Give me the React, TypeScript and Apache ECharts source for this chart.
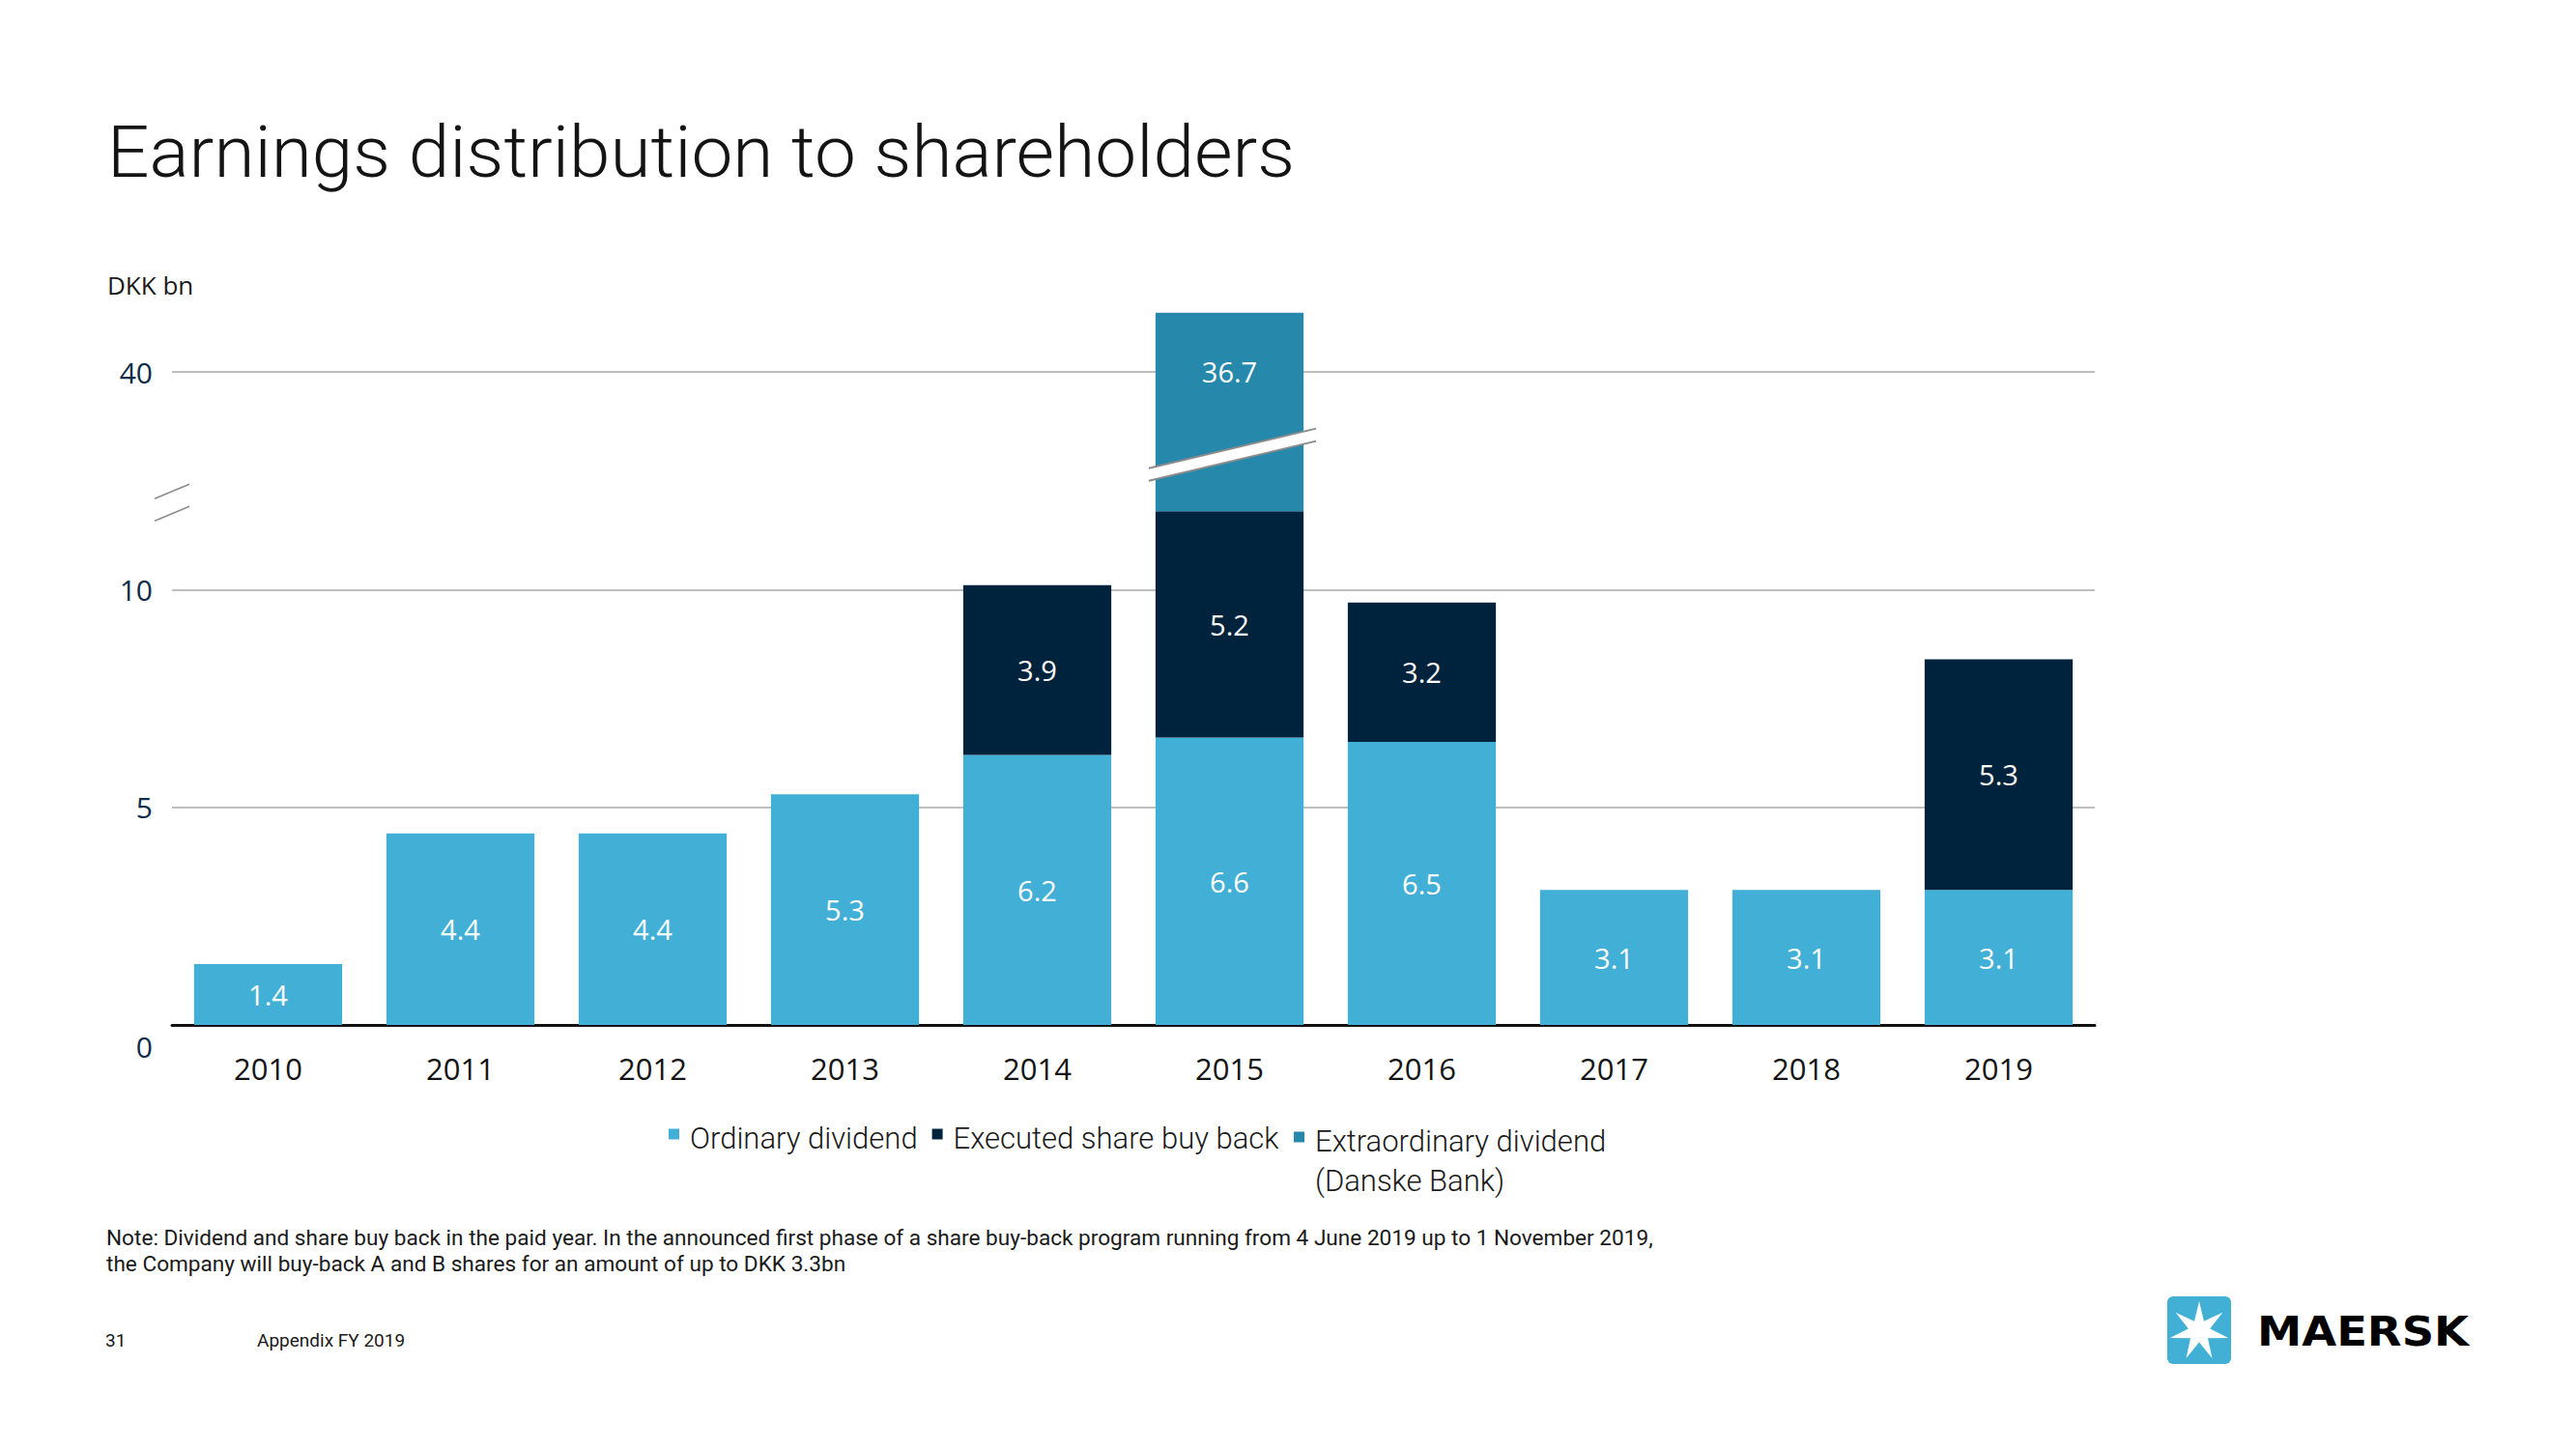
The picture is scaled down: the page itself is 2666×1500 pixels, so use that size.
import React, { useEffect, useRef } from 'react';
import * as echarts from 'echarts';

// ---------- data ----------
const YEARS = ['2010', '2011', '2012', '2013', '2014', '2015', '2016', '2017', '2018', '2019'];
const ORDINARY = [1.4, 4.4, 4.4, 5.3, 6.2, 6.6, 6.5, 3.1, 3.1, 3.1];
const BUYBACK = [0, 0, 0, 0, 3.9, 5.2, 3.2, 0, 0, 5.3];
const EXTRAORDINARY = [0, 0, 0, 0, 0, 36.7, 0, 0, 0, 0];
const SERIES_NAMES = ['Ordinary dividend', 'Executed share buy back', 'Extraordinary dividend (Danske Bank)'];
const LEGEND_LINES = [['Ordinary dividend'], ['Executed share buy back'], ['Extraordinary dividend', '(Danske Bank)']];
const COLORS = ['#42afd6', '#00233d', '#2689ab'];
const Y_TICKS_REAL = [0, 5, 10, 40];

const TITLE = 'Earnings distribution to shareholders';
const UNIT = 'DKK bn';
const NOTE_LINES = [
  'Note: Dividend and share buy back in the paid year. In the announced first phase of a share buy-back program running from 4 June 2019 up to 1 November 2019,',
  'the Company will buy-back A and B shares for an amount of up to DKK 3.3bn',
];
const PAGE_NUMBER = '31';
const FOOTER = 'Appendix FY 2019';
const BRAND = 'MAERSK';

// ---------- broken value scale (real value -> axis units) ----------
const BREAK_START = 12.5; // real value where the break begins
const BREAK_END = 40; // real value where the break ends (the "40" tick)
const BREAK_SPAN = 2.5; // axis units used by the break
const UPPER_SLOPE = 0.16; // axis units per real unit above the break

function toAxis(v: number): number {
  if (v <= BREAK_START) return v;
  if (v <= BREAK_END) return BREAK_START + ((v - BREAK_START) * BREAK_SPAN) / (BREAK_END - BREAK_START);
  return BREAK_START + BREAK_SPAN + (v - BREAK_END) * UPPER_SLOPE;
}
function fromAxis(d: number): number {
  if (d <= BREAK_START) return d;
  if (d <= BREAK_START + BREAK_SPAN) return BREAK_START + ((d - BREAK_START) * (BREAK_END - BREAK_START)) / BREAK_SPAN;
  return BREAK_END + (d - BREAK_START - BREAK_SPAN) / UPPER_SLOPE;
}

const GRID = { left: 178, right: 498, top: 385, bottom: 439 };
const AXIS_MARK_AT = 12.0; // axis units
const BAR_BREAK_AT = 13.1; // axis units

const LABEL_FONT = 'Open Sans';
const TEXT_FONT = 'Roboto';

export default function App() {
  const ref = useRef<HTMLDivElement>(null);

  useEffect(() => {
    if (!ref.current) return;
    const chart = echarts.init(ref.current, undefined, { renderer: 'svg' });
    const REAL = [ORDINARY, BUYBACK, EXTRAORDINARY];
    const segments = REAL.map((arr, s) =>
      arr.map((v, i) => {
        if (!v) return '-';
        const below = REAL.slice(0, s).reduce((acc, a) => acc + a[i], 0);
        return +(toAxis(below + v) - toAxis(below)).toFixed(4);
      })
    );
    const yMax = toAxis(Y_TICKS_REAL[Y_TICKS_REAL.length - 1]);

    const legendRich: any = {
      g: { width: 11, height: 10 },
      g2: { width: 22, height: 10 },
      t: { fontFamily: TEXT_FONT, fontWeight: 300, fontSize: 31, color: '#1a1a1a', lineHeight: 20 },
      u: { fontFamily: TEXT_FONT, fontWeight: 300, fontSize: 31, color: '#1a1a1a', lineHeight: 62 },
    };
    COLORS.forEach((c, i) => {
      legendRich['s' + i] = { width: 11, height: 11, backgroundColor: c, verticalAlign: 'top' };
    });
    const legendFormatter = (name: string) => {
      const i = SERIES_NAMES.indexOf(name);
      const lines = LEGEND_LINES[i];
      let s = `{s${i}|}{g|}{t|${lines[0]}}`;
      for (let k = 1; k < lines.length; k++) s += `\n{g2|}{u|${lines[k]}}`;
      return s;
    };
    const legendBase = {
      orient: 'horizontal',
      icon: 'none',
      itemWidth: 1,
      itemHeight: 1,
      itemGap: 9,
      padding: 0,
      selectedMode: false,
      formatter: legendFormatter,
      textStyle: { rich: legendRich },
    };

    chart.setOption({
      animation: false,
      backgroundColor: '#ffffff',
      grid: { ...GRID, containLabel: false, outerBoundsMode: 'none' },
      legend: [
        { ...legendBase, data: [SERIES_NAMES[0], SERIES_NAMES[1]], left: 686, top: 1163 },
        { ...legendBase, data: [SERIES_NAMES[2]], left: 1333, top: 1166 },
      ],
      xAxis: {
        type: 'category',
        data: YEARS,
        axisLine: { show: true, lineStyle: { color: '#111111', width: 3 } },
        axisTick: { show: false },
        axisLabel: { margin: 29, fontFamily: LABEL_FONT, fontSize: 31, color: '#141414' },
        splitLine: { show: false },
      },
      yAxis: {
        type: 'value',
        min: 0,
        max: yMax,
        interval: 5,
        axisLine: { show: false },
        axisTick: { show: false },
        splitLine: { show: true, lineStyle: { color: '#bfbfbf', width: 2 } },
        axisLabel: {
          margin: 20,
          fontFamily: LABEL_FONT,
          fontSize: 30,
          color: '#0d2c47',
          formatter: (v: number) => (v === 0 ? '{z|0}' : String(Math.round(fromAxis(v)))),
          rich: {
            z: { padding: [44, 0, 0, 0], fontFamily: LABEL_FONT, fontSize: 30, color: '#0d2c47' },
          },
        },
      },
      series: REAL.map((arr, s) => ({
        type: 'bar',
        name: SERIES_NAMES[s],
        stack: 'total',
        barWidth: '77%',
        clip: false,
        silent: true,
        itemStyle: { color: COLORS[s] },
        emphasis: { disabled: true },
        label: {
          show: true,
          position: s === 2 ? 'insideTop' : 'inside',
          distance: s === 2 ? 46 : 5,
          color: '#ffffff',
          fontFamily: LABEL_FONT,
          fontSize: 29,
          formatter: (p: any) => arr[p.dataIndex].toFixed(1),
        },
        data: segments[s],
      })),
    });

    // decorations positioned from the chart's own scales
    const markY = (chart.convertToPixel({ gridIndex: 0 }, [0, AXIS_MARK_AT]) as number[])[1];
    const exIdx = EXTRAORDINARY.findIndex((v) => v > 0);
    const p0 = chart.convertToPixel({ gridIndex: 0 }, [exIdx, BAR_BREAK_AT]) as number[];
    const p1 = chart.convertToPixel({ gridIndex: 0 }, [exIdx + 1, BAR_BREAK_AT]) as number[];
    const band = p1[0] - p0[0];
    const cx = p0[0] + 3;
    const cy = p0[1];
    const hx = band * 0.385 + 10;
    const dy = hx * 0.237;
    const g = 6.5;
    const breakColor = '#8c8c8c';

    const starPts: number[][] = [];
    const sc = [2276, 1378];
    for (let k = 0; k < 14; k++) {
      const r = k % 2 === 0 ? 31 : 11.5;
      const a = -Math.PI / 2 + (k * Math.PI) / 7;
      starPts.push([sc[0] + r * Math.cos(a), sc[1] + r * Math.sin(a)]);
    }

    chart.setOption({
      graphic: [
        {
          type: 'text', x: 111, y: 157, scaleX: 1.035, z: 100,
          style: { text: TITLE, fontFamily: TEXT_FONT, fontWeight: 300, fontSize: 74, fill: '#141414', verticalAlign: 'middle' },
        },
        {
          type: 'text', x: 111, y: 295, z: 100,
          style: { text: UNIT, fontFamily: LABEL_FONT, fontSize: 26, fill: '#1a1a1a', verticalAlign: 'middle' },
        },
        {
          type: 'text', x: 110, y: 1268, z: 100,
          style: { text: NOTE_LINES.join('\n'), fontFamily: TEXT_FONT, fontSize: 22.6, lineHeight: 27, fill: '#1a1a1a', verticalAlign: 'top' },
        },
        {
          type: 'text', x: 109, y: 1387, z: 100,
          style: { text: PAGE_NUMBER, fontFamily: TEXT_FONT, fontSize: 19, fill: '#1a1a1a', verticalAlign: 'middle' },
        },
        {
          type: 'text', x: 266, y: 1387, z: 100,
          style: { text: FOOTER, fontFamily: TEXT_FONT, fontSize: 19, fill: '#1a1a1a', verticalAlign: 'middle' },
        },
        // axis break marks
        {
          type: 'line', z: 100,
          shape: { x1: GRID.left - 18, y1: markY - 4, x2: GRID.left + 18, y2: markY - 19 },
          style: { stroke: breakColor, lineWidth: 1.6 },
        },
        {
          type: 'line', z: 100,
          shape: { x1: GRID.left - 18, y1: markY + 19, x2: GRID.left + 18, y2: markY + 4 },
          style: { stroke: breakColor, lineWidth: 1.6 },
        },
        // bar break
        {
          type: 'polygon', z: 100,
          shape: { points: [[cx - hx, cy - g + dy], [cx + hx, cy - g - dy], [cx + hx, cy + g - dy], [cx - hx, cy + g + dy]] },
          style: { fill: '#ffffff' },
        },
        {
          type: 'line', z: 101,
          shape: { x1: cx - hx, y1: cy - g + dy, x2: cx + hx, y2: cy - g - dy },
          style: { stroke: breakColor, lineWidth: 2 },
        },
        {
          type: 'line', z: 101,
          shape: { x1: cx - hx, y1: cy + g + dy, x2: cx + hx, y2: cy + g - dy },
          style: { stroke: breakColor, lineWidth: 2 },
        },
        // logo
        {
          type: 'rect', z: 100,
          shape: { x: 2243, y: 1342, width: 66, height: 70, r: 6 },
          style: { fill: '#42b0d5' },
        },
        {
          type: 'polygon', z: 101,
          shape: { points: starPts },
          style: { fill: '#ffffff' },
        },
        {
          type: 'text', x: 2336, y: 1378, scaleX: 1.08, z: 100,
          style: { text: BRAND, fontFamily: 'DejaVu Sans', fontWeight: 'bold', fontSize: 43, fill: '#000000', verticalAlign: 'middle' },
        },
      ],
    });

    return () => chart.dispose();
  }, []);

  return (
    <div
      ref={ref}
      style={{ position: 'fixed', left: 0, top: 0, width: 2666, height: 1500, background: '#ffffff' }}
    />
  );
}
